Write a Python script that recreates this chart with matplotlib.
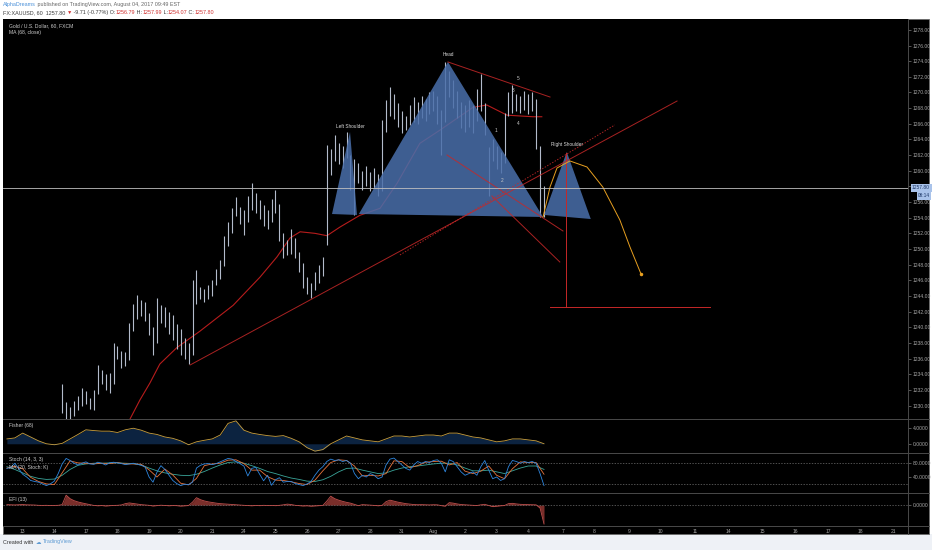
import numpy as np
import matplotlib
matplotlib.use("Agg")
import matplotlib.pyplot as plt
from matplotlib.lines import Line2D
from matplotlib.patches import Rectangle, Polygon
from matplotlib.ticker import FormatStrFormatter

plt.rcParams['font.family'] = ['Liberation Sans', 'DejaVu Sans']

# x axis unit = trading day (0 = Jul 13)
tick_pos = [0, 1, 2, 3, 4, 5, 6, 7, 8, 9, 10, 11, 12, 13, 14, 15, 16,
            17.1, 18.1, 19.2, 20.2, 21.3, 22.35, 23.4, 24.45, 25.5, 26.5, 27.55]
tick_labels = ['13', '14', '17', '18', '19', '20', '21', '24', '25', '26', '27', '28', '31',
               'Aug', '2', '3', '4', '7', '8', '9', '10', '11', '14', '15', '16', '17', '18', '21']

# price bars, one every 1/8 day starting at day 1.25
BAR_START, BAR_STEP = 1.25, 0.125
bar_high = [1232.8, 1230.5, 1229.8, 1230.6, 1231.2, 1232.2, 1231.8, 1231.0, 1232.0, 1235.2,
            1234.6, 1234.0, 1234.2, 1238.0, 1237.6, 1237.0, 1236.8, 1240.5, 1243.0, 1244.1,
            1243.5, 1243.2, 1241.8, 1240.0, 1243.8, 1242.8, 1242.6, 1242.0, 1241.6, 1240.4,
            1239.8, 1238.6, 1238.0, 1246.0, 1247.3, 1245.2, 1244.9, 1245.4, 1246.0, 1247.5,
            1248.6, 1251.6, 1253.4, 1255.2, 1256.6, 1255.4, 1255.0, 1256.8, 1258.4, 1257.2,
            1256.2, 1255.6, 1255.0, 1256.4, 1257.5, 1255.8, 1252.0, 1251.2, 1252.6, 1251.4,
            1249.6, 1248.2, 1246.4, 1245.6, 1247.0, 1248.0, 1249.0, 1263.3, 1262.8, 1264.6,
            1263.6, 1263.2, 1264.9, 1262.0, 1261.5, 1261.0, 1260.0, 1260.6, 1259.8, 1260.4,
            1259.6, 1266.5, 1269.0, 1270.7, 1269.8, 1268.6, 1267.6, 1267.0, 1268.4, 1269.4,
            1268.8, 1269.6, 1269.2, 1270.0, 1270.2, 1269.6, 1267.8, 1273.9, 1272.8, 1271.6,
            1270.2, 1268.8, 1268.4, 1269.0, 1268.4, 1270.4, 1272.4, 1268.6, 1263.0, 1264.0,
            1263.2, 1262.4, 1267.4, 1270.0, 1270.9, 1269.8, 1269.6, 1270.2, 1269.8, 1270.0,
            1269.2, 1263.2, 1257.99]
bar_low = [1229.0, 1228.3, 1228.2, 1228.6, 1229.4, 1230.0, 1230.2, 1229.6, 1229.4, 1231.5,
           1232.8, 1232.0, 1231.6, 1232.8, 1236.0, 1234.8, 1235.0, 1235.8, 1239.5, 1241.0,
           1241.5, 1240.8, 1239.0, 1236.5, 1238.0, 1240.6, 1240.0, 1239.2, 1238.4, 1237.2,
           1236.4, 1236.0, 1235.3, 1236.5, 1243.0, 1243.6, 1243.2, 1243.6, 1244.0, 1245.4,
           1246.2, 1247.8, 1250.4, 1252.0, 1254.2, 1253.2, 1251.8, 1253.5, 1255.0, 1254.6,
           1253.8, 1253.0, 1252.6, 1253.4, 1254.6, 1251.0, 1248.9, 1249.2, 1249.4, 1248.8,
           1247.0, 1245.0, 1244.2, 1243.7, 1244.8, 1245.6, 1246.6, 1250.5, 1259.5, 1261.2,
           1260.8, 1260.4, 1261.6, 1257.6, 1254.4, 1258.4, 1257.6, 1258.0, 1257.4, 1257.8,
           1256.8, 1257.4, 1265.0, 1267.0, 1266.6, 1265.6, 1264.8, 1265.2, 1265.8, 1266.2,
           1266.0, 1266.8, 1266.4, 1267.2, 1267.6, 1266.0, 1262.0, 1266.2, 1269.4, 1268.0,
           1266.8, 1265.4, 1265.0, 1265.6, 1264.8, 1266.4, 1267.6, 1264.6, 1256.8, 1261.2,
           1260.2, 1259.7, 1261.0, 1267.0, 1267.4, 1267.6, 1267.4, 1267.8, 1267.2, 1267.6,
           1262.8, 1254.1, 1254.07]
last_price = 1257.80

# MA (68, close)
ma_t = [3.24, 3.40, 3.71, 4.03, 4.34, 4.88, 5.61, 6.66, 7.51, 8.05, 8.46, 8.78, 9.25,
        9.63, 10.04, 10.67, 11.31, 11.85, 12.57, 13.21, 14.25, 14.69, 15.33, 16.15, 16.43]
ma_p = [1226.9, 1228.3, 1230.7, 1232.9, 1235.3, 1237.4, 1239.5, 1242.8, 1246.4, 1249.0,
        1251.4, 1252.2, 1252.0, 1251.7, 1252.8, 1254.3, 1255.2, 1258.4, 1263.5, 1265.2,
        1268.1, 1268.4, 1267.1, 1266.9, 1266.9]

# head & shoulders drawing
lshoulder_t, lshoulder_p = [9.79, 10.36, 10.58], [1254.47, 1264.95, 1254.35]
head_t, head_p = [10.64, 13.46, 16.47], [1254.47, 1273.90, 1254.09]
rshoulder_t, rshoulder_p = [16.50, 17.22, 17.98], [1254.35, 1262.40, 1253.83]
pattern_labels = ['Left Shoulder', 'Head', 'Right Shoulder']
pattern_label_t = [10.36, 13.46, 17.22]
pattern_label_p = [1265.7, 1274.8, 1263.3]

wave_labels = ['1', '2', '3', '4', '5']
wave_t = [14.98, 15.17, 15.52, 15.68, 15.68]
wave_p = [1265.1, 1258.8, 1270.3, 1266.1, 1271.85]

# trend lines (t0, p0, t1, p1)
trend_lines = [
    (13.46, 1273.90, 16.69, 1269.42),
    (13.43, 1262.01, 17.10, 1252.30),
    (14.85, 1256.77, 17.00, 1248.34),
    (5.30, 1235.18, 20.71, 1268.91),
]
dotted_line = (11.94, 1249.24, 18.74, 1265.85)
target_t, target_top, target_p = 17.19, 1262.27, 1242.59
target_t0, target_t1 = 16.69, 21.75

# projected path (orange curve)
proj_t = [16.47, 16.69, 16.91, 17.32, 17.86, 18.36, 18.90, 19.22, 19.57]
proj_p = [1254.09, 1257.92, 1260.35, 1261.25, 1260.48, 1257.92, 1253.71, 1250.26, 1246.81]

# indicators: coarse grid every 1/4 day, fine grid every 1/8 day, both from day -0.5
IND_START = -0.5
fisher = [1.25, 1.5, 2.75, 1.75, 0.75, 0.0, -0.25, 0.1, 1.25, 2.4, 3.6, 3.4, 3.25, 3.25, 2.9,
          3.6, 4.0, 3.5, 2.75, 2.4, 1.75, 1.4, 0.75, -0.25, 0.5, 0.9, 1.25, 2.25, 5.25, 5.9,
          3.5, 2.75, 2.4, 2.1, 1.9, 2.1, 1.4, 0.5, -1.0, -1.9, -1.5, 0.0, 1.0, 2.0, 1.5, 1.0,
          0.75, 0.5, 1.25, 2.0, 2.0, 1.75, 2.0, 2.25, 2.25, 2.0, 2.75, 2.75, 2.25, 1.75, 1.5,
          1.0, 0.5, 0.75, 1.25, 1.25, 1.0, 0.75, 0.0]
stoch_k = [65, 68, 80, 64, 48, 40, 30, 27, 25, 20, 15, 20, 28, 50, 78, 94, 88, 80, 75, 80,
           84, 78, 77, 83, 80, 75, 81, 83, 81, 79, 76, 78, 80, 77, 74, 69, 40, 25, 54, 73,
           62, 46, 30, 21, 15, 19, 18, 25, 66, 74, 78, 79, 76, 79, 84, 89, 94, 92, 85, 79,
           72, 43, 65, 68, 48, 29, 45, 16, 32, 38, 25, 27, 27, 21, 18, 15, 20, 27, 45, 60,
           70, 85, 92, 88, 90, 85, 88, 80, 50, 35, 45, 40, 50, 45, 35, 40, 75, 92, 95, 85,
           75, 65, 60, 75, 85, 80, 85, 82, 88, 90, 80, 55, 90, 85, 70, 55, 45, 50, 55, 45,
           70, 88, 60, 35, 40, 30, 35, 70, 88, 85, 80, 85, 82, 85, 80, 50, 15]
stoch_d = [66, 71, 64, 39, 27, 20, 18, 52, 87, 81, 80, 78, 80, 79, 82, 78, 78, 77, 61, 40,
           63, 46, 22, 17, 36, 73, 78, 80, 89, 90, 79, 60, 60, 41, 31, 30, 26, 21, 18, 31,
           58, 82, 90, 88, 72, 43, 45, 43, 50, 87, 85, 67, 73, 83, 85, 86, 75, 82, 57, 50,
           57, 72, 45, 35, 64, 84, 82, 82, 48]
stoch_ma = [70, 62, 52, 42, 36, 33, 34, 45, 62, 74, 78, 80, 80, 81, 81, 80, 79, 75, 66, 58,
            52, 48, 45, 44, 48, 56, 66, 75, 82, 84, 80, 73, 65, 56, 50, 43, 37, 33, 28, 27,
            32, 42, 55, 65, 66, 60, 55, 50, 52, 60, 66, 70, 72, 75, 78, 80, 80, 75, 66, 58,
            58, 60, 55, 50, 58, 66, 72, 72, 62]
efi = [0.5, 0.3, 0.2, 0.4, 0.6, 0.3, 0.2, 0.1, -0.2, -0.3, -0.2, -0.4, -0.3, -0.2,
       0.5, 10, 6.5, 4.5, 3.2, 2.2, 1.4, 0.6,
       -0.3, -0.6, -0.4, -0.8, -0.5, -0.3, -0.2, 0.2,
       1.5, 2.2, 1.6, 1.0, 0.5,
       0.2, -0.2, -0.8, -0.4, -0.1, -0.3, -0.6, -0.4, -0.5, -0.9, -0.6, -0.4,
       3.0, 7.5, 5.5, 4.2, 3.3, 2.6, 2.0, 1.5, 1.2, 0.9, 0.6,
       0.3, 0.1, -0.2, -0.4, -0.6, -0.3, -0.5, -0.2, -0.4, -0.3, -0.5, -0.2, 0.3,
       1.0, 0.6,
       -0.2, -0.5, -0.8, -0.6, -1.0, -0.7, -0.5, -0.3,
       4.0, 9.0, 6.5, 5.0, 3.8, 2.8, 2.0, 0.8,
       -0.5, 0.5, 0.3, 0.0, -0.3, -0.6, -0.2,
       3.5, 5.0, 4.0, 3.0, 2.2, 1.5, 1.0,
       0.6, 0.4, 0.5, 0.3, 0.2, 0.4, 0.3, -0.5, -1.0,
       2.5, 2.0, 1.2,
       0.6, 0.3, 0.0, -0.2, -0.4, 0.3, 0.8, -0.3,
       -1.5, -1.0, -0.6, -0.4, 1.5, 1.8, 1.2, 0.8, 0.6, 0.5, 0.4, 0.3, -3.0, -19.0]

# ---------------------------------------------------------------------------
W, H = 932, 550
BG = 'black'
GRID = '#4a4a4a'
TXT = '#a8a8a8'
RED = '#c62828'

fig = plt.figure(figsize=(W / 100, H / 100), dpi=100)
fig.patch.set_facecolor('white')


def fx(px):
    return px / W


def fy(py):
    return 1 - py / H


fig.add_artist(Rectangle((0, 0), 1, fy(534), transform=fig.transFigure,
                         facecolor='#eef1f6', lw=0, zorder=0))
fig.add_artist(Rectangle((fx(3), fy(534)), fx(929) - fx(3), fy(18.5) - fy(534),
                         transform=fig.transFigure, facecolor=BG, edgecolor='#6a6a6a',
                         lw=0.6, zorder=0))


def pane(top, bottom, sharex=None):
    ax = fig.add_axes([fx(3), fy(bottom), fx(908) - fx(3), fy(top) - fy(bottom)], sharex=sharex)
    ax.set_facecolor(BG)
    for s in ax.spines.values():
        s.set_visible(False)
    ax.yaxis.tick_right()
    ax.tick_params(axis='y', colors='#777777', labelcolor=TXT, labelsize=3.6,
                   length=2, width=0.5, pad=1.5)
    ax.tick_params(axis='x', bottom=False, labelbottom=False)
    return ax


ax = pane(19, 418.5)
ax_f = pane(419.5, 452.5, ax)
ax_s = pane(453.5, 492.5, ax)
ax_e = pane(493.5, 526, ax)

for py in (419, 453, 493, 526):
    fig.add_artist(Line2D([fx(3), fx(929)], [fy(py), fy(py)], transform=fig.transFigure,
                          color=GRID, lw=0.7))
fig.add_artist(Line2D([fx(908), fx(908)], [fy(18.5), fy(534)], transform=fig.transFigure,
                      color=GRID, lw=0.7))

ax.set_xlim(-0.623, 28.02)
ax_e.set_xticks(tick_pos)
ax_e.set_xticklabels(tick_labels)
ax_e.tick_params(axis='x', bottom=True, labelbottom=True, labelsize=3.6, labelcolor=TXT,
                 length=0, pad=2.3)

# ---- main pane ----
ax.set_ylim(1228.34, 1279.39)
ax.set_yticks(np.arange(1230, 1279, 2))
ax.yaxis.set_major_formatter(FormatStrFormatter('%.2f'))

bar_t = BAR_START + BAR_STEP * np.arange(len(bar_high))
ax.vlines(bar_t, bar_low, bar_high, color='#b3bbcb', lw=0.8, zorder=2)
ax.plot(ma_t, ma_p, color='#b71c1c', lw=0.8, zorder=1.5)

for tt, pp in ((lshoulder_t, lshoulder_p), (head_t, head_p), (rshoulder_t, rshoulder_p)):
    ax.add_patch(Polygon(list(zip(tt, pp)), closed=True, facecolor='#4a6fab',
                         alpha=0.85, lw=0, zorder=3))

for t0, p0, t1, p1 in trend_lines:
    ax.plot([t0, t1], [p0, p1], color=RED, lw=0.7, alpha=0.85, zorder=4)
t0, p0, t1, p1 = dotted_line
ax.plot([t0, t1], [p0, p1], color=RED, lw=0.7, ls=(0, (1.5, 1.5)), alpha=0.85, zorder=4)
ax.plot([target_t, target_t], [target_top, target_p], color=RED, lw=0.7, zorder=4)
ax.plot([target_t0, target_t1], [target_p, target_p], color=RED, lw=0.7, zorder=4)

ax.plot(proj_t, proj_p, color='#e8a020', lw=0.7, zorder=4)
ax.plot(proj_t[-1], proj_p[-1], 'o', color='#e8a020', ms=1.5, zorder=4)

ax.axhline(last_price, color='#c0c0c0', lw=0.6, zorder=5)

for s, tt, pp in zip(pattern_labels, pattern_label_t, pattern_label_p):
    ax.text(tt, pp, s, color='#dcdcdc', fontsize=3.4, ha='center', va='center', zorder=6)
for s, tt, pp in zip(wave_labels, wave_t, wave_p):
    ax.text(tt, pp, s, color='#c8c8c8', fontsize=3.4, ha='center', va='center', zorder=6)

ax.annotate(f'{last_price:.2f}', xy=(1, last_price), xycoords=('axes fraction', 'data'),
            xytext=(4, 0), textcoords='offset pixels', fontsize=3.6, color='#1b3564',
            va='center', ha='left', annotation_clip=False, zorder=10,
            bbox=dict(boxstyle='square,pad=0.3', fc='#a9c3ea', ec='none'))
ax.annotate('08:14', xy=(1, last_price), xycoords=('axes fraction', 'data'),
            xytext=(10, -8), textcoords='offset pixels', fontsize=3.4, color='#1b3564',
            va='center', ha='left', annotation_clip=False, zorder=10,
            bbox=dict(boxstyle='square,pad=0.25', fc='#a9c3ea', ec='none'))

ax.annotate('Gold / U.S. Dollar, 60, FXCM', xy=(0, 1), xycoords='axes fraction',
            xytext=(6, -6.5), textcoords='offset pixels', fontsize=3.6, color='#cfcfcf', va='center')
ax.annotate('MA (68, close)', xy=(0, 1), xycoords='axes fraction',
            xytext=(6, -13.5), textcoords='offset pixels', fontsize=3.6, color='#cfcfcf', va='center')

# ---- Fisher ----
t_coarse = IND_START + 0.25 * np.arange(len(fisher))
ax_f.set_ylim(-2.25, 6.25)
ax_f.set_yticks([0, 4])
ax_f.yaxis.set_major_formatter(FormatStrFormatter('%.4f'))
ax_f.fill_between(t_coarse, fisher, 0, color='#0c2340', lw=0)
ax_f.plot(t_coarse, fisher, color='#c9a040', lw=0.6)
ax_f.annotate('Fisher (68)', xy=(0, 1), xycoords='axes fraction', xytext=(6, -6),
              textcoords='offset pixels', fontsize=3.6, color='#cfcfcf', va='center')

# ---- Stoch ----
t_fine = IND_START + 0.125 * np.arange(len(stoch_k))
ax_s.set_ylim(-5, 108.3)
ax_s.set_yticks([40, 80])
ax_s.yaxis.set_major_formatter(FormatStrFormatter('%.4f'))
for lvl in (80, 20):
    ax_s.axhline(lvl, color='#6f6f6f', lw=0.5, ls=(0, (2, 2)))
ax_s.plot(IND_START + 0.25 * np.arange(len(stoch_ma)), stoch_ma, color='#3aa59a', lw=0.6)
ax_s.plot(IND_START + 0.25 * np.arange(len(stoch_d)), stoch_d, color='#e8743b', lw=0.6)
ax_s.plot(t_fine, stoch_k, color='#2e86de', lw=0.6)
ax_s.annotate('Stoch (14, 3, 3)', xy=(0, 1), xycoords='axes fraction', xytext=(6, -6.5),
              textcoords='offset pixels', fontsize=3.6, color='#cfcfcf', va='center')
ax_s.annotate('MA (20, Stoch: K)', xy=(0, 1), xycoords='axes fraction', xytext=(6, -13.5),
              textcoords='offset pixels', fontsize=3.6, color='#cfcfcf', va='center')

# ---- EFI ----
t_efi = IND_START + 0.125 * np.arange(len(efi))
ax_e.set_ylim(-21, 11.7)
ax_e.set_yticks([0])
ax_e.yaxis.set_major_formatter(FormatStrFormatter('%.4f'))
ax_e.axhline(0, color='#6f6f6f', lw=0.5, ls=(0, (2, 2)))
ax_e.fill_between(t_efi, efi, 0, color='#7a2e2a', lw=0)
ax_e.plot(t_efi, efi, color='#c0504d', lw=0.6)
ax_e.annotate('EFI (13)', xy=(0, 1), xycoords='axes fraction', xytext=(6, -6.5),
              textcoords='offset pixels', fontsize=3.6, color='#cfcfcf', va='center')

# ---- header / footer text ----
renderer = fig.canvas.get_renderer()


def text_width(s, size):
    # width including trailing spaces: measure with a bar appended, then remove the bar
    t1 = fig.text(0, 0, s + '|', fontsize=size)
    t2 = fig.text(0, 0, '|', fontsize=size)
    w = t1.get_window_extent(renderer=renderer).width - t2.get_window_extent(renderer=renderer).width
    t1.remove()
    t2.remove()
    return w


def chain(x_px, y_px, parts, size):
    prefix = ''
    for s, c in parts:
        x = x_px + (text_width(prefix, size) if prefix else 0)
        fig.text(fx(x), fy(y_px), s, color=c, fontsize=size, va='center', ha='left')
        prefix += s


DARK = '#3a3a3a'
PRED = '#d0302f'
chain(3, 4.5, [('AlphaDreams', '#4a90d9'),
               (' published on TradingView.com, August 04, 2017 09:49 EST', '#666666')], 3.9)
chain(3, 12.5, [('FX:XAUUSD, 60  1257.80 ', DARK), ('\u25bc', PRED),
                (' -9.71 (-0.77%) O:', DARK), ('1256.79', PRED), (' H:', DARK), ('1257.99', PRED),
                (' L:', DARK), ('1254.07', PRED), (' C:', DARK), ('1257.80', PRED)], 3.9)
chain(3, 542, [('Created with  ', '#333333'), ('\u2601 ', '#5d9bd3'),
               ('TradingView', '#5d9bd3')], 3.9)

fig.savefig('out.png', dpi=100, facecolor=fig.get_facecolor())
